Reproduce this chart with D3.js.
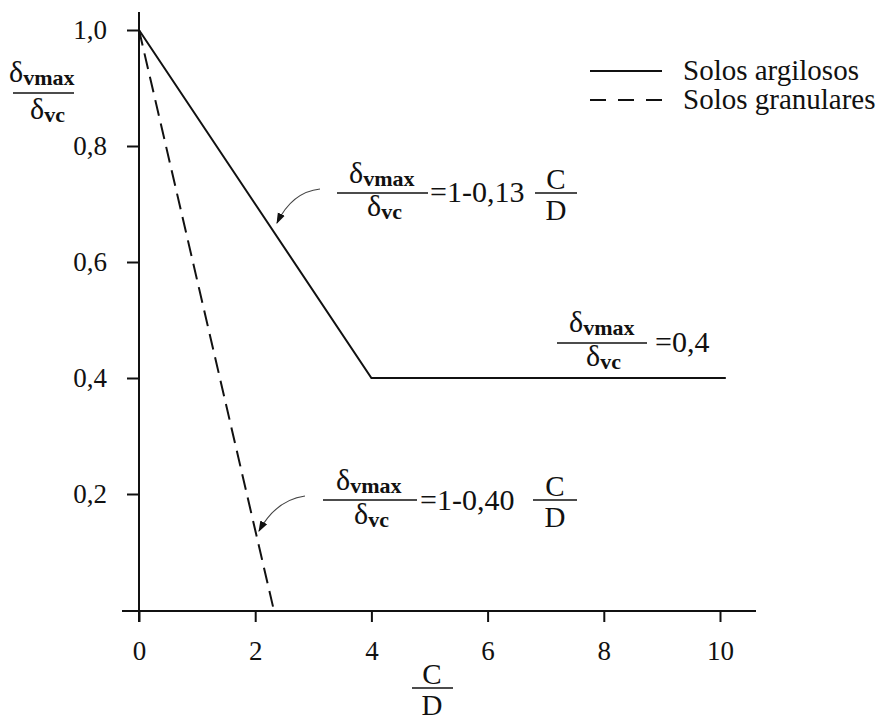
<!DOCTYPE html>
<html>
<head>
<meta charset="utf-8">
<script src="https://cdn.jsdelivr.net/npm/d3@7"></script>
<style>
  html, body { margin: 0; padding: 0; background: #fff; }
  svg { display: block; }
  text { font-family: "Liberation Serif", "Times New Roman", serif; fill: #111; }
</style>
</head>
<body>
<svg id="chart" width="880" height="724"></svg>
<script>
// ---- data ----
const argilososX = [0, 4, 10.1];
const argilososY = [1.0, 0.4, 0.4];
const granularesX = [0, 2.32];
const granularesY = [1.0, 0.0];
const xTicks = [0, 2, 4, 6, 8, 10];
const xTickLabels = ["0", "2", "4", "6", "8", "10"];
const yTicks = [0.2, 0.4, 0.6, 0.8, 1.0];
const yTickLabels = ["0,2", "0,4", "0,6", "0,8", "1,0"];
const legendLabels = ["Solos argilosos", "Solos granulares"];
const eqArgilosos = "=1-0,13";
const eqGranulares = "=1-0,40";
const eqPlateau = "=0,4";

// ---- layout ----
const svg = d3.select("#chart");
const x = d3.scaleLinear().domain([0, 10]).range([139, 720]);
const y = d3.scaleLinear().domain([0, 1]).range([610, 30]);
const ink = "#111";

// axes lines
svg.append("line").attr("x1", 139).attr("x2", 139).attr("y1", 12).attr("y2", 622)
  .attr("stroke", ink).attr("stroke-width", 2);
svg.append("line").attr("x1", 122).attr("x2", 756).attr("y1", 611).attr("y2", 611)
  .attr("stroke", ink).attr("stroke-width", 2);

const xAxis = d3.axisBottom(x).tickValues(xTicks)
  .tickFormat((d, i) => xTickLabels[i]).tickSize(11).tickPadding(19);
const gx = svg.append("g").attr("transform", "translate(0,611)").call(xAxis);
gx.select(".domain").remove();
gx.selectAll(".tick line").attr("stroke", ink).attr("stroke-width", 2);
gx.selectAll(".tick text").attr("font-size", 27).attr("font-family", "Liberation Serif").attr("fill", ink);

const yAxis = d3.axisLeft(y).tickValues(yTicks)
  .tickFormat((d, i) => yTickLabels[i]).tickSize(12).tickPadding(20);
const gy = svg.append("g").attr("transform", "translate(139,0)").call(yAxis);
gy.select(".domain").remove();
gy.selectAll(".tick line").attr("stroke", ink).attr("stroke-width", 2);
gy.selectAll(".tick text").attr("font-size", 27).attr("font-family", "Liberation Serif").attr("fill", ink);

// series
const line = d3.line().x(d => x(d[0])).y(d => y(d[1]));
svg.append("path").datum(argilososX.map((v, i) => [v, argilososY[i]]))
  .attr("d", line).attr("fill", "none").attr("stroke", ink).attr("stroke-width", 2);
svg.append("path").datum(granularesX.map((v, i) => [v, granularesY[i]]))
  .attr("d", line).attr("fill", "none").attr("stroke", ink).attr("stroke-width", 2)
  .attr("stroke-dasharray", "16,8");

// legend
const leg = svg.append("g");
leg.append("line").attr("x1", 590).attr("x2", 662).attr("y1", 71).attr("y2", 71)
  .attr("stroke", ink).attr("stroke-width", 2);
leg.append("line").attr("x1", 590).attr("x2", 662).attr("y1", 100).attr("y2", 100)
  .attr("stroke", ink).attr("stroke-width", 2).attr("stroke-dasharray", "16,12");
leg.append("text").attr("x", 683).attr("y", 80).attr("font-size", 29).text(legendLabels[0]);
leg.append("text").attr("x", 683).attr("y", 109).attr("font-size", 29).text(legendLabels[1]);

// fraction helper: delta with subscript
function deltaSub(g, xPos, yPos, sub) {
  const t = g.append("text").attr("x", xPos).attr("y", yPos).attr("font-size", 30);
  t.append("tspan").text("δ");
  t.append("tspan").attr("font-size", 22).attr("font-weight", "bold").attr("dy", 3).text(sub);
  return t;
}
function bar(g, x1, x2, yy) {
  g.append("line").attr("x1", x1).attr("x2", x2).attr("y1", yy).attr("y2", yy)
    .attr("stroke", ink).attr("stroke-width", 1.5);
}
function cdFrac(g, cx, barY, x1, x2) {
  bar(g, x1, x2, barY);
  g.append("text").attr("x", cx).attr("y", barY - 4).attr("text-anchor", "middle").attr("font-size", 29).text("C");
  g.append("text").attr("x", cx).attr("y", barY + 27).attr("text-anchor", "middle").attr("font-size", 29).text("D");
}

// y-axis label
const yl = svg.append("g");
deltaSub(yl, 9, 82, "vmax");
bar(yl, 13, 74, 93);
deltaSub(yl, 30, 119, "vc");

// x-axis label
const xl = svg.append("g");
cdFrac(xl, 432, 688, 412, 453);

// arrowhead marker
const defs = svg.append("defs");
defs.append("marker").attr("id", "ah").attr("viewBox", "0 0 10 10").attr("refX", 9).attr("refY", 5)
  .attr("markerWidth", 10).attr("markerHeight", 10).attr("orient", "auto")
  .append("path").attr("d", "M0,1.5 L10,5 L0,8.5 Z").attr("fill", ink);

// annotation 1 (argilosos slope)
const a1 = svg.append("g");
deltaSub(a1, 349, 183, "vmax");
bar(a1, 337, 428, 193);
deltaSub(a1, 367, 216, "vc");
a1.append("text").attr("x", 430).attr("y", 202).attr("font-size", 30).text(eqArgilosos);
cdFrac(a1, 556, 193, 535, 577);
a1.append("path").attr("d", "M320,189 Q292,192 277,223").attr("fill", "none")
  .attr("stroke", "#444").attr("stroke-width", 1.1).attr("marker-end", "url(#ah)");

// annotation 2 (granulares)
const a2 = svg.append("g");
deltaSub(a2, 336, 490, "vmax");
bar(a2, 323, 417, 500);
deltaSub(a2, 354, 524, "vc");
a2.append("text").attr("x", 420).attr("y", 510).attr("font-size", 30).text(eqGranulares);
cdFrac(a2, 555, 500, 533, 577);
a2.append("path").attr("d", "M305,496 Q276,500 259,531").attr("fill", "none")
  .attr("stroke", "#444").attr("stroke-width", 1.1).attr("marker-end", "url(#ah)");

// annotation 3 (plateau)
const a3 = svg.append("g");
deltaSub(a3, 569, 332, "vmax");
bar(a3, 557, 647, 343);
deltaSub(a3, 586, 366, "vc");
a3.append("text").attr("x", 655).attr("y", 352).attr("font-size", 30).text(eqPlateau);
</script>
</body>
</html>
